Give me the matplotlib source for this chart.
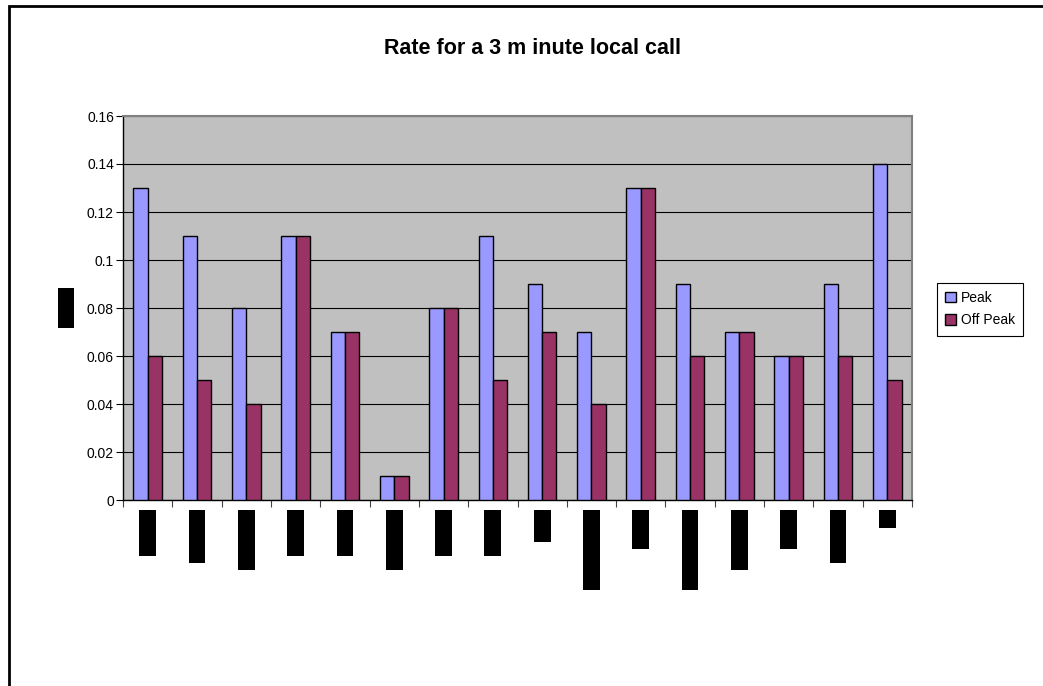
import numpy as np
import matplotlib.pyplot as plt
from matplotlib.patches import Rectangle

plt.rcParams['font.family'] = ['Liberation Sans', 'DejaVu Sans']

# data (x labels are blacked out in the source)
x_labels = ["█" * 6, "█" * 7, "█" * 8, "█" * 6, "█" * 6, "█" * 8, "█" * 6, "█" * 6,
            "█" * 4, "█" * 11, "█" * 5, "█" * 11, "█" * 8, "█" * 5, "█" * 7, "█" * 2]
y_label = "█" * 5
peak = [0.13, 0.11, 0.08, 0.11, 0.07, 0.01, 0.08, 0.11, 0.09, 0.07, 0.13, 0.09, 0.07, 0.06, 0.09, 0.14]
off_peak = [0.06, 0.05, 0.04, 0.11, 0.07, 0.01, 0.08, 0.05, 0.07, 0.04, 0.13, 0.06, 0.07, 0.06, 0.06, 0.05]
y_ticks = [0, 0.02, 0.04, 0.06, 0.08, 0.1, 0.12, 0.14, 0.16]
y_tick_labels = ["0", "0.02", "0.04", "0.06", "0.08", "0.1", "0.12", "0.14", "0.16"]
title = "Rate for a 3 m inute local call"

W, H = 1043, 686
fig = plt.figure(figsize=(W / 100, H / 100), dpi=100)
ax = fig.add_axes([123 / W, 1 - 500 / H, 789 / W, 384 / H])

# outer chart border (runs off the right / bottom edge)
fig.patches.append(Rectangle((8.5 / W, -0.2), 1.2, 1.2 - 5.5 / H, transform=fig.transFigure,
                             fill=False, edgecolor='black', linewidth=2))

x = np.arange(len(peak))
w = 0.29
ax.set_facecolor('#C0C0C0')
ax.bar(x - w / 2, peak, w, color='#9999FF', edgecolor='black', linewidth=1, label='Peak', zorder=3)
ax.bar(x + w / 2, off_peak, w, color='#993366', edgecolor='black', linewidth=1, label='Off Peak', zorder=3)

ax.set_xlim(-0.5, len(peak) - 0.5)
ax.set_ylim(0, 0.16)
ax.set_yticks(y_ticks)
ax.set_yticklabels(y_tick_labels, fontsize=10)
ax.yaxis.grid(True, color='black', linewidth=0.8, zorder=0)
ax.set_axisbelow(True)

# x ticks between categories, labels at category centres
ax.set_xticks(np.arange(len(peak) + 1) - 0.5)
ax.set_xticklabels([])
ax.tick_params(axis='x', length=5, width=0.8, color='#444444')
ax.tick_params(axis='y', length=5, width=0.8, pad=1.5)
for i, lab in enumerate(x_labels):
    ax.text(i, -0.032, lab, rotation=90, ha='center', va='top', fontsize=7,
            color='black', transform=ax.get_xaxis_transform(),
            bbox=dict(facecolor='black', edgecolor='none', pad=1.66))
fig.text(66 / W, 1 - 308 / H, y_label, rotation=90, ha='center', va='center', fontsize=7,
         color='black', bbox=dict(facecolor='black', edgecolor='none', pad=1.66))

for s in ['left', 'bottom']:
    ax.spines[s].set_color('black')
    ax.spines[s].set_linewidth(1)
for s in ['top', 'right']:
    ax.spines[s].set_color('#808080')
    ax.spines[s].set_linewidth(1.5)

fig.text(532 / W, 1 - 48 / H, title, ha='center', va='center', fontsize=15.5, fontweight='bold')

leg = fig.legend(loc='center left', bbox_to_anchor=(937 / W, 1 - 309 / H), fontsize=10,
                 fancybox=False, edgecolor='black', handlelength=0.8, handleheight=0.8,
                 handletextpad=0.3, borderpad=0.6, labelspacing=0.6, framealpha=1,
                 borderaxespad=0)
leg.get_frame().set_linewidth(0.8)

plt.savefig("out.png", dpi=100)
